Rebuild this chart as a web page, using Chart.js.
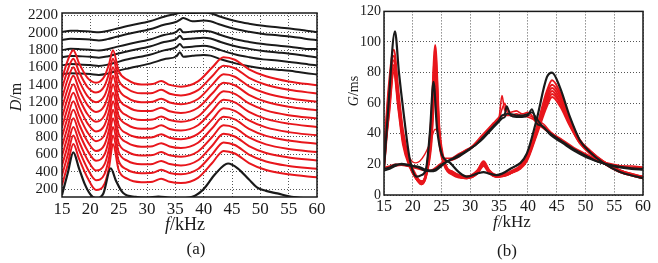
<!DOCTYPE html>
<html>
<head>
<meta charset="utf-8">
<script src="https://cdn.jsdelivr.net/npm/chart.js@4/dist/chart.umd.min.js"></script>
<style>
  body { margin: 0; background: #fff; }
  canvas { position: absolute; top: 0; }
</style>
</head>
<body>
<canvas id="chartA" width="330" height="263" style="left:0"></canvas>
<canvas id="chartB" width="328" height="263" style="left:330px"></canvas>
<script>
// ---- panel (a): D/m waterfall ----
const freqTicks = [15, 20, 25, 30, 35, 40, 45, 50, 55, 60];
const depthTicks = [200, 400, 600, 800, 1000, 1200, 1400, 1600, 1800, 2000, 2200];
const gainTicks = [0, 20, 40, 60, 80, 100, 120];

const freqRed = [15, 16, 17, 18, 19.5, 21, 22.5, 23.3, 24, 25, 26.5, 29, 31, 32.5, 34, 36, 39, 41.5, 43.5, 45.5, 48, 51, 55, 60];
const redCurve01 = [245, 480, 720, 550, 330, 190, 260, 450, 720, 420, 320, 280, 285, 320, 285, 270, 330, 500, 640, 610, 500, 420, 370, 336];
const redCurve02 = [356, 589, 818, 650, 435, 302, 373, 558, 818, 524, 424, 382, 387, 422, 386, 371, 431, 600, 738, 708, 598, 518, 467, 433];
const redCurve03 = [468, 698, 916, 750, 539, 415, 485, 666, 916, 627, 527, 485, 490, 525, 488, 472, 532, 700, 836, 806, 696, 616, 565, 529];
const redCurve04 = [579, 807, 1015, 850, 644, 527, 598, 775, 1015, 731, 631, 587, 592, 627, 589, 573, 633, 800, 934, 905, 795, 715, 662, 626];
const redCurve05 = [691, 916, 1113, 950, 748, 639, 711, 883, 1113, 835, 735, 689, 694, 729, 691, 674, 734, 900, 1032, 1003, 893, 813, 759, 722];
const redCurve06 = [802, 1025, 1211, 1050, 853, 752, 824, 991, 1211, 938, 838, 792, 797, 832, 792, 775, 835, 1000, 1130, 1101, 991, 911, 856, 819];
const redCurve07 = [913, 1135, 1309, 1150, 957, 864, 936, 1099, 1309, 1042, 942, 894, 899, 934, 893, 875, 935, 1100, 1228, 1199, 1089, 1009, 954, 915];
const redCurve08 = [1025, 1244, 1407, 1250, 1062, 976, 1049, 1207, 1407, 1145, 1045, 996, 1001, 1036, 995, 976, 1036, 1200, 1326, 1297, 1187, 1107, 1051, 1012];
const redCurve09 = [1136, 1353, 1505, 1350, 1166, 1088, 1162, 1316, 1505, 1249, 1149, 1098, 1103, 1138, 1096, 1077, 1137, 1300, 1424, 1396, 1286, 1206, 1148, 1108];
const redCurve10 = [1248, 1462, 1604, 1450, 1271, 1201, 1274, 1424, 1604, 1353, 1253, 1201, 1206, 1241, 1198, 1178, 1238, 1400, 1522, 1494, 1384, 1304, 1246, 1205];
const redCurve11 = [1359, 1571, 1702, 1550, 1375, 1313, 1387, 1532, 1702, 1456, 1356, 1303, 1308, 1343, 1299, 1279, 1339, 1500, 1620, 1592, 1482, 1402, 1343, 1301];
const redCurve12 = [1470, 1680, 1800, 1650, 1480, 1425, 1500, 1640, 1800, 1560, 1460, 1405, 1410, 1445, 1400, 1380, 1440, 1600, 1718, 1690, 1580, 1500, 1440, 1397];

const freqBlackTop = [15, 16.5, 18, 20, 21.5, 23, 24.6, 27, 30.5, 33, 35.2, 35.8, 36.4, 38, 40, 41.2, 43, 45.8, 48, 50.5, 53, 55.2, 57, 58.5, 60];
const blackTop1 = [1522, 1535, 1532, 1525, 1515, 1530, 1560, 1595, 1645, 1695, 1730, 1775, 1725, 1735, 1745, 1737, 1695, 1645, 1615, 1590, 1575, 1562, 1545, 1532, 1520];
const blackTop2 = [1624, 1640, 1636, 1628, 1618, 1632, 1660, 1700, 1748, 1798, 1834, 1870, 1832, 1840, 1850, 1840, 1800, 1748, 1720, 1694, 1680, 1664, 1650, 1636, 1624];
const blackTop3 = [1719, 1734, 1730, 1724, 1714, 1728, 1756, 1794, 1842, 1894, 1930, 1965, 1925, 1934, 1944, 1934, 1894, 1842, 1815, 1790, 1774, 1760, 1745, 1730, 1719];
const blackTop4 = [1800, 1815, 1812, 1805, 1795, 1810, 1838, 1875, 1923, 1975, 2010, 2045, 2005, 2015, 2025, 2015, 1975, 1923, 1895, 1870, 1855, 1840, 1825, 1812, 1813];
const blackTop5 = [1917, 1932, 1929, 1922, 1912, 1927, 1954, 1992, 2040, 2092, 2127, 2150, 2170, 2132, 2142, 2132, 2092, 2040, 2012, 1987, 1972, 1957, 1942, 1927, 1917];
const blackTop6 = [2010, 2025, 2022, 2015, 2005, 2020, 2047, 2085, 2133, 2185, 2220, 2230, 2232, 2228, 2235, 2225, 2185, 2133, 2105, 2080, 2065, 2050, 2035, 2020, 2010];

const freqBlackBottom = [15, 16, 17, 18, 19, 20, 21, 22.3, 23.6, 24.5, 25.8, 28, 30, 32, 34, 36, 38, 40, 42, 44.3, 46, 48, 49.4, 51, 53, 55.5, 58, 60];
const blackBottom = [132, 380, 623, 440, 260, 140, 95, 150, 440, 300, 155, 110, 100, 115, 100, 95, 110, 200, 370, 495, 440, 310, 220, 180, 150, 110, 95, 90];

// ---- panel (b): G/ms ----
const freqNearBlack = [15, 15.8, 16.9, 17.6, 18.3, 19.5, 20.7, 21.5, 22.3, 23.0, 23.6, 24.2, 25, 26.5, 28, 29.4, 31.2, 32.3, 33.3, 34.5, 36.9, 39.8, 41.5, 43.3, 44.2, 45.6, 47.3, 49, 50.8, 53.1, 56, 58.9, 60];
const nearBlack = [17, 60, 107, 80, 57, 23, 12, 13, 17, 42, 74, 44, 27, 21, 15, 12, 14, 15, 14, 13, 17, 27, 49, 77, 80, 70, 51, 36, 28, 21, 15, 12, 11];

const freqNearRed = [15, 15.8, 16.7, 17.5, 18.3, 19.5, 20.7, 21.5, 22.3, 23.2, 23.9, 24.6, 25.5, 27, 29.4, 31.2, 32.3, 33.3, 34.5, 36.9, 39.8, 41.5, 43.3, 44.2, 45.6, 47.3, 49, 50.8, 53.1, 56, 58.9, 60];
const nearRed1 = [27, 70, 95, 68, 42, 22, 12, 8, 15, 50, 98, 45, 22, 15, 12, 16, 22, 16, 13, 15, 25, 44, 68, 75, 67, 50, 36, 29, 22, 16, 13, 12];
const nearRed2 = [24, 66, 91, 65, 40, 21, 11, 9, 14, 46, 93, 42, 21, 15, 12, 15, 21, 16, 13, 15, 24, 43, 66, 72, 65, 49, 36, 29, 22, 16, 13, 12];
const nearRed3 = [21, 62, 88, 62, 38, 20, 11, 9, 13, 42, 88, 40, 21, 14, 12, 15, 21, 15, 12, 15, 24, 42, 64, 70, 63, 48, 35, 28, 21, 16, 12, 11];
const nearRed4 = [19, 58, 85, 60, 36, 19, 10, 8, 13, 38, 82, 38, 20, 14, 11, 14, 20, 15, 12, 14, 23, 41, 62, 68, 61, 47, 35, 28, 21, 16, 12, 11];
const nearRed5 = [18, 55, 82, 58, 35, 19, 10, 7, 12, 35, 76, 36, 20, 14, 11, 14, 20, 15, 12, 14, 23, 40, 60, 66, 60, 46, 34, 28, 21, 15, 12, 11];
const nearRed6 = [17, 52, 80, 56, 33, 18, 10, 7, 12, 32, 70, 34, 19, 13, 11, 14, 19, 14, 12, 14, 22, 39, 58, 64, 58, 45, 34, 27, 21, 15, 12, 11];

const freqMidRed = [15, 16, 16.8, 17.6, 18.5, 19.5, 20.5, 21.2, 22, 23, 23.9, 24.6, 25.4, 26.5, 28, 30, 32, 34, 35, 36, 38, 40, 42, 44, 46, 48, 50, 52, 55, 58, 60];
const midRed = [25, 55, 85, 60, 35, 24, 21, 22, 26, 34, 43, 38, 24, 24, 27, 31, 39, 47, 51, 52, 52, 51, 47, 41, 35, 30, 26, 23, 20, 18, 18];

const freqFar = [15, 16, 17, 18, 19, 20, 21, 22, 23, 24, 25, 26, 27, 28, 29, 30, 31, 32, 33, 34, 35, 35.5, 36, 36.3, 37, 38, 39, 40, 40.7, 41.5, 42.5, 44, 46, 48, 50, 52, 54, 56, 58, 60];
const farBlack1 = [17, 18, 20, 20, 19.5, 19, 18, 16, 15.5, 16, 19, 22, 24, 26, 28, 30.5, 33, 37, 41, 45, 49, 52, 53, 58, 52, 51, 51, 52, 56, 47, 45, 39, 34, 29, 25, 22, 19.5, 18, 17, 16.5];
const farBlack2 = [16, 17, 19, 20.5, 20, 19, 18.5, 17, 16, 17, 20, 22, 23.5, 25, 27.5, 30, 33, 36, 40, 44, 48, 50, 51, 53, 53, 52, 52, 53, 54, 50, 45, 40, 35, 30, 26, 22, 20, 18.5, 17.5, 17];
const farRed1 = [18, 19, 20, 20, 19, 18, 17, 16, 16, 18, 21, 22, 24, 26.5, 29, 31, 34, 38, 42, 47, 51, 65, 55, 56, 54, 55, 53, 54, 52, 48, 47, 41, 36, 31, 27, 23, 20, 19, 19, 18];
const farRed2 = [17, 18, 19, 19.5, 19, 18.5, 17.5, 16.5, 16, 17, 20, 22, 23, 25, 28, 30, 33, 37, 41, 46, 50, 56, 60, 55, 52, 53, 52, 52, 51, 47, 44, 40, 35, 30, 26, 22, 20, 19, 18, 18];

const RED = '#e8161c';
const BLACK = '#1a1a1a';
const SERIF = '"Liberation Serif", "Times New Roman", serif';

function toPoints(xs, ys) {
  return xs.map((x, i) => ({ x: x, y: ys[i] }));
}

function line(xs, ys, color, width) {
  return {
    data: toPoints(xs, ys),
    borderColor: color,
    borderWidth: width,
    pointRadius: 0,
    fill: false,
    cubicInterpolationMode: 'monotone',
    clip: 0
  };
}

// text with an italic letter and a roman rest, like "D/m"
function drawParts(ctx, parts, x, y, rot, size) {
  const fontOf = (it) => (it ? 'italic ' : '') + size + 'px ' + SERIF;
  let total = 0;
  parts.forEach(([t, it]) => { ctx.font = fontOf(it); total += ctx.measureText(t).width; });
  ctx.save();
  ctx.translate(x, y);
  ctx.rotate(rot);
  ctx.textBaseline = 'middle';
  ctx.textAlign = 'left';
  let cx = -total / 2;
  parts.forEach(([t, it]) => {
    ctx.font = fontOf(it);
    ctx.fillText(t, cx, 0);
    cx += ctx.measureText(t).width;
  });
  ctx.restore();
}

const panelText = {
  id: 'panelText',
  afterDraw(chart, args, opts) {
    const { ctx, chartArea: a } = chart;
    ctx.save();
    ctx.setLineDash([]);
    ctx.strokeStyle = BLACK;
    ctx.lineWidth = 1.5;
    ctx.strokeRect(a.left, a.top, a.right - a.left, a.bottom - a.top);
    ctx.fillStyle = BLACK;
    drawParts(ctx, opts.yTitle, opts.yTitleX, opts.yTitleY, -Math.PI / 2, opts.yTitleSize);
    drawParts(ctx, opts.xTitle, opts.xTitleX, opts.xTitleY, 0, opts.xTitleSize);
    drawParts(ctx, [[opts.label, false]], opts.labelX, opts.labelY, 0, 17);
    ctx.restore();
  }
};

function scaleOpts(min, max, ticks, fontSize, pad, fitSize, horizontal) {
  return {
    type: 'linear',
    min: min,
    max: max,
    afterBuildTicks: (s) => { s.ticks = ticks.map(v => ({ value: v })); },
    afterFit: (s) => { if (horizontal) { s.height = fitSize; } else { s.width = fitSize; } },
    ticks: {
      font: { family: SERIF, size: fontSize },
      color: BLACK,
      padding: pad,
      maxRotation: 0,
      autoSkip: false,
      callback: (v) => String(v)
    },
    grid: { color: '#555', lineWidth: 1, drawTicks: false },
    border: { display: false, dash: [1, 2] }
  };
}

function baseOptions(padRight) {
  return {
    responsive: false,
    animation: false,
    devicePixelRatio: 1,
    layout: { padding: { left: 0, right: padRight, top: 10, bottom: 0 } },
    plugins: { legend: { display: false }, tooltip: { enabled: false } }
  };
}

// panel (a)
const datasetsA = [line(freqBlackBottom, blackBottom, BLACK, 2.2)];
[redCurve01, redCurve02, redCurve03, redCurve04, redCurve05, redCurve06,
 redCurve07, redCurve08, redCurve09, redCurve10, redCurve11, redCurve12].forEach((c) => {
  datasetsA.push(line(freqRed, c, RED, 2));
});
[blackTop1, blackTop2, blackTop3, blackTop4, blackTop5, blackTop6].forEach((c) => {
  datasetsA.push(line(freqBlackTop, c, BLACK, 2));
});

const optsA = baseOptions(13);
optsA.scales = {
  x: scaleOpts(15, 60, freqTicks, 17, 2, 66, true),
  y: scaleOpts(109, 2228, depthTicks, 15, 4, 62, false)
};
optsA.plugins.panelText = {
  yTitle: [['D', true], ['/m', false]], yTitleX: 17, yTitleY: 97, yTitleSize: 16,
  xTitle: [['f', true], ['/kHz', false]], xTitleX: 185, xTitleY: 225, xTitleSize: 18,
  label: '(a)', labelX: 196, labelY: 250
};

new Chart(document.getElementById('chartA'), {
  type: 'line',
  data: { datasets: datasetsA },
  options: optsA,
  plugins: [panelText]
});

// panel (b)
const datasetsB = [
  line(freqNearBlack, nearBlack, BLACK, 2.2),
  line(freqFar, farBlack1, BLACK, 2),
  line(freqFar, farBlack2, BLACK, 1.8),
  line(freqFar, farRed1, RED, 1.6),
  line(freqFar, farRed2, RED, 1.6),
  line(freqMidRed, midRed, RED, 1.4)
];
[nearRed1, nearRed2, nearRed3, nearRed4, nearRed5, nearRed6].forEach((c) => {
  datasetsB.push(line(freqNearRed, c, RED, 2));
});

const optsB = baseOptions(15);
optsB.scales = {
  x: scaleOpts(15, 60, freqTicks, 16, 2, 68, true),
  y: scaleOpts(0, 120, gainTicks, 14, 3, 54, false)
};
optsB.plugins.panelText = {
  yTitle: [['G', true], ['/ms', false]], yTitleX: 24, yTitleY: 91, yTitleSize: 14,
  xTitle: [['f', true], ['/kHz', false]], xTitleX: 182, xTitleY: 223, xTitleSize: 17,
  label: '(b)', labelX: 177, labelY: 252
};

new Chart(document.getElementById('chartB'), {
  type: 'line',
  data: { datasets: datasetsB },
  options: optsB,
  plugins: [panelText]
});
</script>
</body>
</html>
